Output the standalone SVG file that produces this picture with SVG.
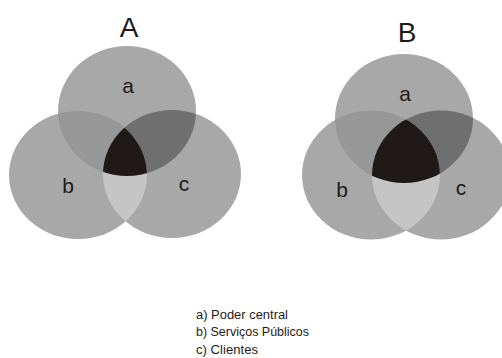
<svg xmlns="http://www.w3.org/2000/svg" xmlns:xlink="http://www.w3.org/1999/xlink" width="502" height="358" viewBox="0 0 502 358">
<style>
.base{fill:#a8a8a8}
.ab{fill:#979797}
.ac{fill:#6f6f6f}
.bc{fill:#c5c5c5}
.abc{fill:#1f1a17}
.title{font-family:"Liberation Sans",Arial,sans-serif;font-size:28px;fill:#1f1a17;text-anchor:middle}
.lbl{font-family:"Liberation Sans",Arial,sans-serif;font-size:21px;fill:#1f1a17;text-anchor:middle}
.leg{font-family:"Liberation Sans",Arial,sans-serif;font-size:12.5px;fill:#1f1a17}
</style>
<defs>
<ellipse id="eAa" cx="127" cy="111" rx="69" ry="65"/>
<ellipse id="eAb" cx="78" cy="175" rx="69" ry="64"/>
<ellipse id="eAc" cx="172" cy="174" rx="69" ry="64"/>
<ellipse id="eBa" cx="404" cy="118.5" rx="69" ry="64.5"/>
<ellipse id="eBb" cx="371" cy="175" rx="69" ry="64.5"/>
<ellipse id="eBc" cx="441" cy="175" rx="69" ry="64.5"/>
<clipPath id="cAa"><use xlink:href="#eAa"/></clipPath>
<clipPath id="cAb"><use xlink:href="#eAb"/></clipPath>
<clipPath id="cBa"><use xlink:href="#eBa"/></clipPath>
<clipPath id="cBb"><use xlink:href="#eBb"/></clipPath>
</defs>

<g id="diagramA">
<text class="title" x="129" y="37">A</text>
<g id="A-a"><use xlink:href="#eAa" class="base"/></g>
<g id="A-b"><use xlink:href="#eAb" class="base"/></g>
<g id="A-c"><use xlink:href="#eAc" class="base"/></g>
<g id="A-overlaps">
<g clip-path="url(#cAa)"><use xlink:href="#eAb" class="ab"/></g>
<g clip-path="url(#cAa)"><use xlink:href="#eAc" class="ac"/></g>
<g clip-path="url(#cAb)"><use xlink:href="#eAc" class="bc"/></g>
<g clip-path="url(#cAa)"><g clip-path="url(#cAb)"><use xlink:href="#eAc" class="abc"/></g></g>
</g>
<text class="lbl" x="128" y="93">a</text>
<text class="lbl" x="68" y="193">b</text>
<text class="lbl" x="184" y="191">c</text>
</g>

<g id="diagramB">
<text class="title" x="407" y="42">B</text>
<g id="B-a"><use xlink:href="#eBa" class="base"/></g>
<g id="B-b"><use xlink:href="#eBb" class="base"/></g>
<g id="B-c"><use xlink:href="#eBc" class="base"/></g>
<g id="B-overlaps">
<g clip-path="url(#cBa)"><use xlink:href="#eBb" class="ab"/></g>
<g clip-path="url(#cBa)"><use xlink:href="#eBc" class="ac"/></g>
<g clip-path="url(#cBb)"><use xlink:href="#eBc" class="bc"/></g>
<g clip-path="url(#cBa)"><g clip-path="url(#cBb)"><use xlink:href="#eBc" class="abc"/></g></g>
</g>
<text class="lbl" x="405" y="101">a</text>
<text class="lbl" x="342" y="197">b</text>
<text class="lbl" x="461" y="195">c</text>
</g>

<g id="legend">
<text class="leg" x="196" y="318.5" textLength="92" lengthAdjust="spacingAndGlyphs">a) Poder central</text>
<text class="leg" x="196" y="336" textLength="113" lengthAdjust="spacingAndGlyphs">b) Serviços Públicos</text>
<text class="leg" x="196" y="353.5" textLength="62" lengthAdjust="spacingAndGlyphs">c) Clientes</text>
</g>
</svg>
